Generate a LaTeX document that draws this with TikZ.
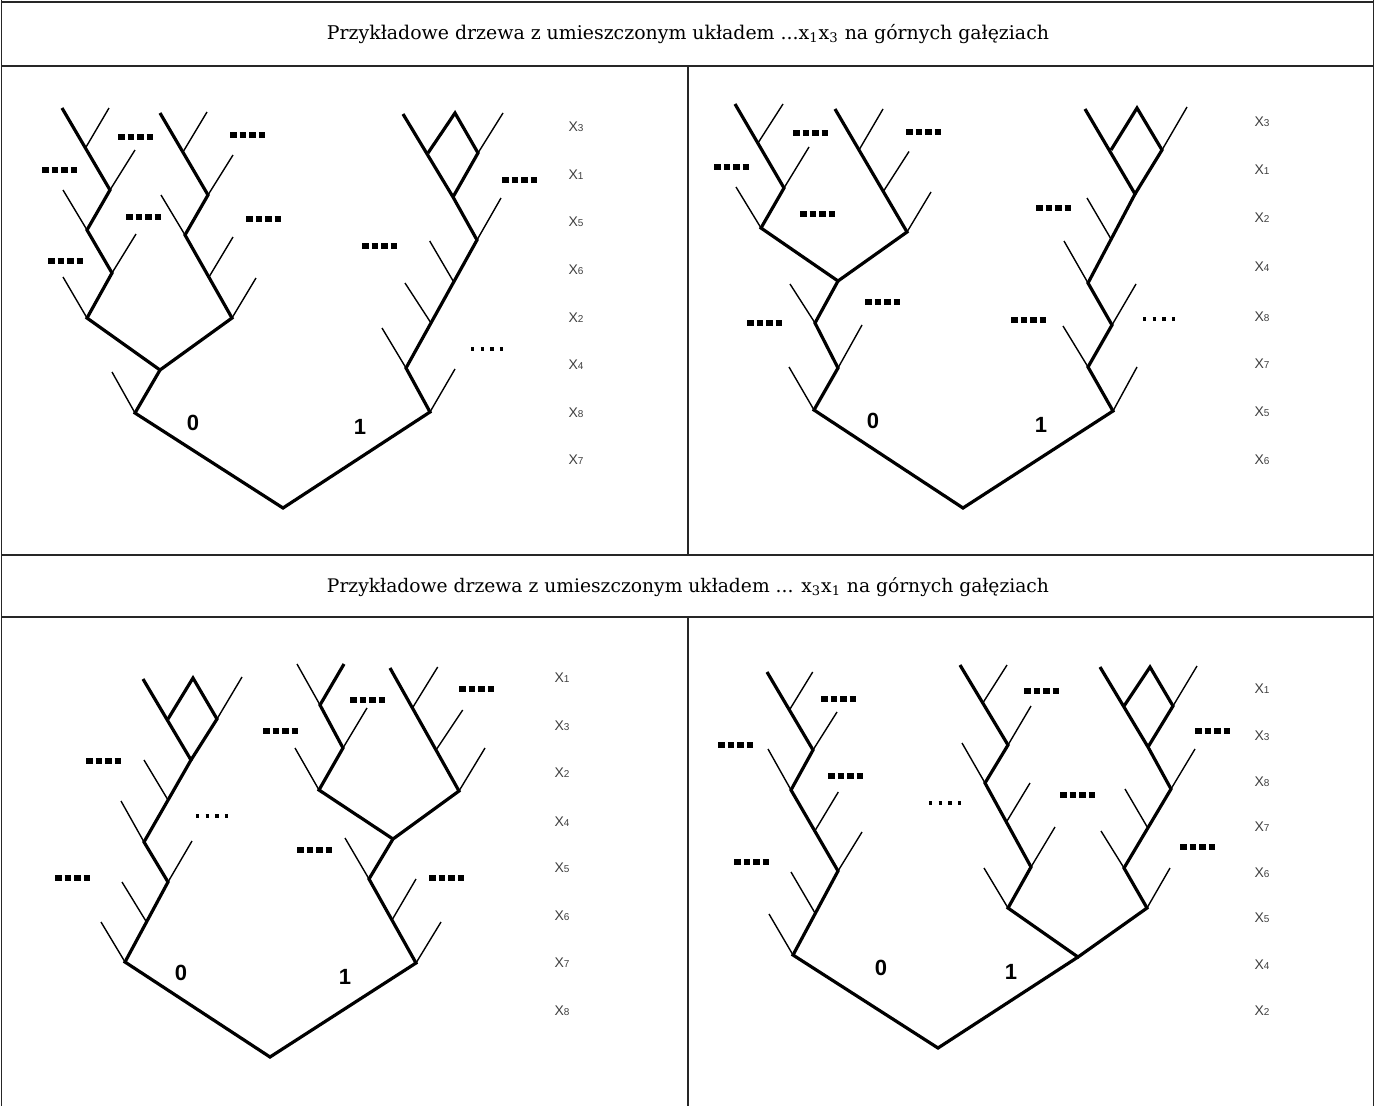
\documentclass[tikz,border=0pt]{standalone}
\usepackage{fontspec}
\setmainfont{DejaVu Serif}
\newfontfamily\lsans{Liberation Sans}
\newcommand\xlab[1]{X{\fontsize{10}{11}\selectfont #1}}
\begin{document}
\begin{tikzpicture}[x=1pt,y=-1pt,
  thk/.style={line width=3.2pt,black},
  thn/.style={line width=1.4pt,black},
  bd/.style={line width=6.5pt,dash pattern=on 6.8pt off 2.7pt,black},
  sd/.style={line width=3.5pt,dash pattern=on 3.3pt off 6.3pt,black},
  lv/.style={font=\lsans\fontsize{14}{15}\selectfont,text=black!75,inner sep=0pt},
  bit/.style={font=\lsans\bfseries\fontsize{22}{24}\selectfont,inner sep=0pt},
  ttl/.style={inner sep=0pt},
  tbl/.style={line width=1.3pt,black!85}]
\useasboundingbox (0,0) rectangle (1375,1106);
\fill[white] (0,0) rectangle (1375,1106);
% ---------- table ----------
\draw[tbl,line width=2pt] (1,1.5) -- (1374,1.5);
\draw[tbl] (1.5,0) -- (1.5,1106);
\draw[tbl] (1373.5,0) -- (1373.5,1106);
\draw[tbl,line width=1.8pt] (1,66) -- (1374,66);
\draw[tbl] (1,555) -- (1374,555);
\draw[tbl,line width=1.8pt] (1,617) -- (1374,617);
\draw[tbl] (688,66) -- (688,555);
\draw[tbl] (688,617) -- (688,1106);
\node[ttl] (t1) at (688,34) {\resizebox{722pt}{!}{Przykładowe drzewa z umieszczonym układem ...x\textsubscript{1}x\textsubscript{3} na górnych gałęziach}};
\node[ttl] (t2) at (688,587) {\resizebox{722pt}{!}{Przykładowe drzewa z umieszczonym układem ... x\textsubscript{3}x\textsubscript{1} na górnych gałęziach}};
% ---------- panel 1 ----------
\draw[thk] (62,108) -- (110,190) -- (87,230) -- (112,273) -- (87,318) -- (160,370) -- (232,318) -- (185,235) -- (208,195) -- (160,113);
\draw[thk] (160,370) -- (135,413) -- (283,508) -- (430,412) -- (406,368) -- (477,240) -- (453,197) -- (403,114);
\draw[thk] (428,153) -- (455,113) -- (478,153) -- (453,197);
\draw[thn] (85.5,148) -- (109,108);
\draw[thn] (110,190) -- (135,150);
\draw[thn] (63,190) -- (87,230);
\draw[thn] (112,273) -- (136,234);
\draw[thn] (63,277) -- (87,318);
\draw[thn] (183,152) -- (207,112);
\draw[thn] (208,195) -- (233,155);
\draw[thn] (161,195) -- (185,235);
\draw[thn] (209,277) -- (233,237);
\draw[thn] (232,318) -- (256,278);
\draw[thn] (112,372) -- (135,413);
\draw[thn] (478,153) -- (503,113);
\draw[thn] (477,240) -- (501,198);
\draw[thn] (429.7,241) -- (453.7,282);
\draw[thn] (405,283) -- (431,323);
\draw[thn] (382,328) -- (406,368);
\draw[thn] (430,412) -- (455,369);
\foreach \p in {(118,137),(42,170),(126,217),(48,261),(230,135),(246,219),(362,246),(502,180)}
  \draw[bd] \p -- ++(35.3,0);
\draw[sd] (471,349) -- ++(32.1,0);
\node[bit] (a0) at (193,423) {0};
\node[bit] (a1) at (360,427) {1};
\foreach \y/\n [count=\i] in {127/3,175/1,222/5,270/6,318/2,365/4,413/8,460/7}
  \node[lv] (ax\i) at (576,\y) {\xlab{\n}};
% ---------- panel 2 ----------
\draw[thk] (735,104) -- (784,188) -- (761,228) -- (838,281) -- (907,232) -- (835,109);
\draw[thk] (838,281) -- (815,323) -- (838,368) -- (814,410) -- (963,508) -- (1113,411) -- (1088,367) -- (1112,325) -- (1088,283) -- (1135,194) -- (1085,109);
\draw[thk] (1111,150) -- (1137,108) -- (1162,150) -- (1135,194);
\draw[thn] (758,143) -- (783,104);
\draw[thn] (784,188) -- (809,147);
\draw[thn] (736,187) -- (761,228);
\draw[thn] (859,150) -- (883,109);
\draw[thn] (883.3,191.5) -- (909,151.5);
\draw[thn] (907,232) -- (931,192);
\draw[thn] (790,284) -- (815,323);
\draw[thn] (838,368) -- (862,325);
\draw[thn] (789,367) -- (814,410);
\draw[thn] (1162,150) -- (1187,107);
\draw[thn] (1087,198) -- (1111,239);
\draw[thn] (1064,241) -- (1088,283);
\draw[thn] (1112,325) -- (1136,284);
\draw[thn] (1063,326) -- (1088,367);
\draw[thn] (1113,411) -- (1137,367);
\foreach \p in {(793,133),(714,167),(800,214),(906,132),(865,302),(747,323),(1036,208),(1011,320)}
  \draw[bd] \p -- ++(35.3,0);
\draw[sd] (1143,319) -- ++(32.1,0);
\node[bit] (b0) at (873,421) {0};
\node[bit] (b1) at (1041,425) {1};
\foreach \y/\n [count=\i] in {122/3,170/1,218/2,267/4,317/8,364/7,412/5,460/6}
  \node[lv] (bx\i) at (1262,\y) {\xlab{\n}};
% ---------- panel 3 ----------
\draw[thk] (143,679) -- (191,760) -- (144,842) -- (168,882) -- (125,962) -- (270,1057) -- (416,963) -- (369,879) -- (393,839) -- (459,791) -- (390,668);
\draw[thk] (168,719) -- (193,678) -- (217,719) -- (191,760);
\draw[thk] (344,664) -- (320,705) -- (343,748) -- (319,790) -- (393,839);
\draw[thn] (217,719) -- (242,677);
\draw[thn] (144,760) -- (168,800);
\draw[thn] (121,801) -- (144,842);
\draw[thn] (192,841) -- (168,882);
\draw[thn] (122,882) -- (146.5,922);
\draw[thn] (101,922) -- (125,962);
\draw[thn] (297,664) -- (320,705);
\draw[thn] (343,748) -- (367,708);
\draw[thn] (295,748) -- (319,790);
\draw[thn] (412.4,708) -- (437.7,667);
\draw[thn] (436,750) -- (462.7,710);
\draw[thn] (459,791) -- (485,748);
\draw[thn] (345,838) -- (369,879);
\draw[thn] (392,920) -- (416,879);
\draw[thn] (416,963) -- (441,922);
\foreach \p in {(350,700),(263,731),(459,689),(297,850),(429,878),(86,761),(55,878)}
  \draw[bd] \p -- ++(35.3,0);
\draw[sd] (196,816) -- ++(32.1,0);
\node[bit] (c0) at (181,973) {0};
\node[bit] (c1) at (345,977) {1};
\foreach \y/\n [count=\i] in {678/1,726/3,773/2,822/4,868/5,916/6,963/7,1011/8}
  \node[lv] (cx\i) at (562,\y) {\xlab{\n}};
% ---------- panel 4 ----------
\draw[thk] (767,672) -- (813,750) -- (791,790) -- (838,871) -- (793,955) -- (938,1048) -- (1078,957);
\draw[thk] (960,665) -- (1008,745) -- (985,783) -- (1031,867) -- (1008,908) -- (1078,957) -- (1147,908) -- (1124,868) -- (1171,789) -- (1148,747) -- (1100,667);
\draw[thk] (1124,706) -- (1150,667) -- (1173,706) -- (1148,747);
\draw[thn] (789.4,710) -- (812.7,672);
\draw[thn] (813,750) -- (837,712);
\draw[thn] (768,749) -- (791,790);
\draw[thn] (814.8,831) -- (838.3,792);
\draw[thn] (838,871) -- (862,832);
\draw[thn] (791,872) -- (815,913);
\draw[thn] (769,914) -- (793,955);
\draw[thn] (982.8,703) -- (1007,665);
\draw[thn] (1008,745) -- (1031,706);
\draw[thn] (962,743) -- (985,783);
\draw[thn] (1006.4,822) -- (1030,783);
\draw[thn] (1031,867) -- (1055,827);
\draw[thn] (984,868) -- (1008,908);
\draw[thn] (1173,706) -- (1197,666);
\draw[thn] (1171,789) -- (1195,749);
\draw[thn] (1125,789) -- (1147.8,828);
\draw[thn] (1101,831) -- (1124,868);
\draw[thn] (1147,908) -- (1170,868);
\foreach \p in {(821,699),(718,745),(828,776),(734,862),(1024,691),(1195,731),(1060,795),(1180,847)}
  \draw[bd] \p -- ++(35.3,0);
\draw[sd] (929,803) -- ++(32.1,0);
\node[bit] (d0) at (881,968) {0};
\node[bit] (d1) at (1011,972) {1};
\foreach \y/\n [count=\i] in {689/1,736/3,782/8,827/7,873/6,918/5,965/4,1011/2}
  \node[lv] (dx\i) at (1262,\y) {\xlab{\n}};
\end{tikzpicture}
\end{document}
